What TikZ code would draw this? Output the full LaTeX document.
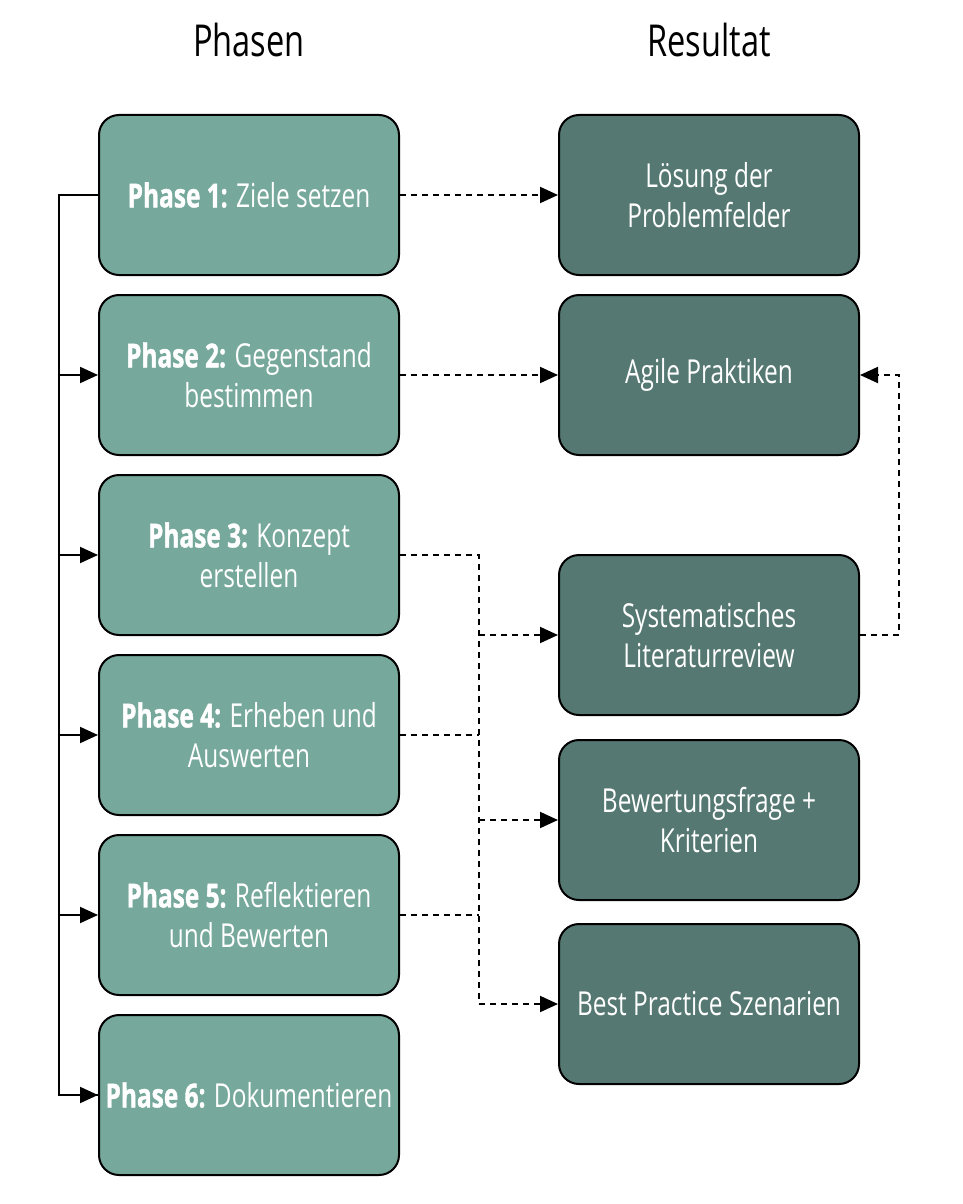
\documentclass[tikz,border=0pt]{standalone}
\usepackage{fontspec}
\setmainfont{Open Sans}[FakeStretch=0.74,BoldFeatures={FakeBold=1.2}]
\usetikzlibrary{arrows.meta}
\definecolor{phasecol}{RGB}{118,168,156}
\definecolor{resultcol}{RGB}{85,121,114}
\tikzset{
  phase/.style={draw=black, line width=2pt, rounded corners=20pt, fill=phasecol,
    minimum width=300pt, minimum height=160pt, text=white, align=center,
    font=\fontsize{33}{40}\selectfont},
  result/.style={phase, fill=resultcol},
  head/.style={font=\fontsize{44}{50}\selectfont},
  line/.style={line width=2pt},
  flow/.style={line, -{Triangle[length=18pt,width=16pt]}},
  dline/.style={line, dash pattern=on 6pt off 5pt},
  dflow/.style={flow, dash pattern=on 6pt off 5pt},
}

\begin{document}
\begin{tikzpicture}[x=1pt,y=-1pt]
    \useasboundingbox (0,0) rectangle (962,1204);
    % headers
    \node[head] (hphase) at (249,40) {Phasen};
    \node[head] (hres) at (709,40) {Resultat};
    % phases
    \node[phase] (p1) at (249,195) {\textbf{Phase 1:} Ziele setzen};
    \node[phase] (p2) at (249,375) {\textbf{Phase 2:} Gegenstand\\bestimmen};
    \node[phase] (p3) at (249,555) {\textbf{Phase 3:} Konzept\\erstellen};
    \node[phase] (p4) at (249,735) {\textbf{Phase 4:} Erheben und\\Auswerten};
    \node[phase] (p5) at (249,915) {\textbf{Phase 5:} Reflektieren\\und Bewerten};
    \node[phase] (p6) at (249,1095) {\textbf{Phase 6:} Dokumentieren};
    % results
    \node[result] (r1) at (709,195) {Lösung der\\Problemfelder};
    \node[result] (r2) at (709,375) {Agile Praktiken};
    \node[result] (r3) at (709,635) {Systematisches\\Literaturreview};
    \node[result] (r4) at (709,820) {Bewertungsfrage +\\Kriterien};
    \node[result] (r5) at (709,1004) {Best Practice Szenarien};
    % bends
    \coordinate (bus) at (59,195);
    \coordinate (mid) at (479,555);
    \coordinate (midend) at (479,1004);
    \coordinate (back) at (899,635);
    % phase sequence
    \draw[line] (p1.west) -- (bus) |- (p6.west);
    \foreach \p in {p2,p3,p4,p5,p6}
        \draw[flow] (bus) |- (\p.west);
    % results
    \draw[dflow] (p1.east) -- (r1.west);
    \draw[dflow] (p2.east) -- (r2.west);
    \draw[dline] (p3.east) -- (mid) -- (midend);
    \draw[dline] (p4.east) -- (mid |- p4.east);
    \draw[dline] (p5.east) -- (mid |- p5.east);
    \foreach \r in {r3,r4,r5}
        \draw[dflow] (mid |- \r.west) -- (\r.west);
    \draw[dflow] (r3.east) -- (back) |- (r2.east);
\end{tikzpicture}
\end{document}
